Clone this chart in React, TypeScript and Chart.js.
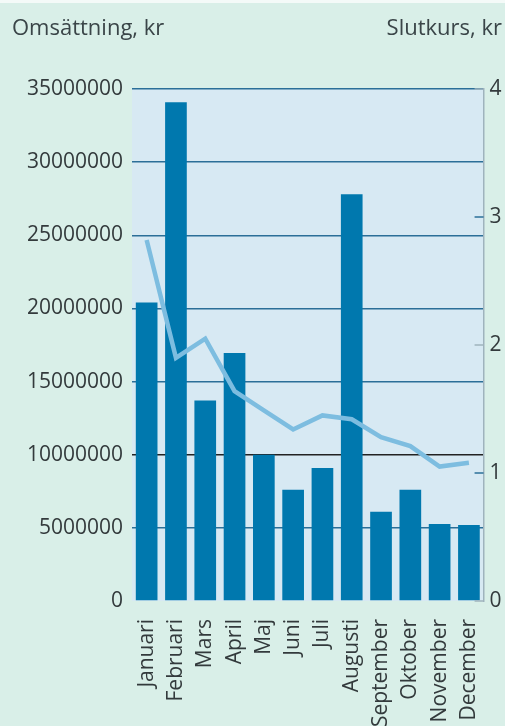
import React, { useEffect, useRef } from "react";
import { Chart, registerables } from "chart.js";

Chart.register(...registerables);

const months = ["Januari", "Februari", "Mars", "April", "Maj", "Juni", "Juli", "Augusti", "September", "Oktober", "November", "December"];
const turnover = [20400000, 34100000, 13700000, 16950000, 10000000, 7600000, 9100000, 27800000, 6100000, 7600000, 5260000, 5200000];
const closing = [2.82, 1.9, 2.05, 1.64, 1.49, 1.34, 1.45, 1.42, 1.28, 1.21, 1.05, 1.08];
const leftTicksMax = 35000000;
const leftStep = 5000000;
const rightMax = 4;

const FONT = "'Open Sans', sans-serif";
const TEXT = "#333a3c";

export default function App() {
  const ref = useRef<HTMLCanvasElement | null>(null);

  useEffect(() => {
    document.body.style.margin = "0";
    const canvas = ref.current!;
    const plotBg = {
      id: "plotBg",
      beforeDraw(chart: any) {
        const { ctx, chartArea } = chart;
        ctx.save();
        ctx.fillStyle = "#d7e9f3";
        ctx.fillRect(chartArea.left, chartArea.top, chartArea.right - chartArea.left, chartArea.bottom - chartArea.top);
        ctx.restore();
      },
      afterDraw(chart: any) {
        const { ctx, chartArea } = chart;
        const s = chart.scales.y1;
        ctx.save();
        ctx.lineWidth = 1.5;
        s.ticks.forEach((t: any, i: number) => {
          const y = s.getPixelForValue(t.value);
          ctx.strokeStyle = i % 2 === 1 ? "#2b6f98" : "#9fb3bd";
          ctx.beginPath();
          ctx.moveTo(chartArea.right - 9, y);
          ctx.lineTo(chartArea.right, y);
          ctx.stroke();
        });
        ctx.restore();
      },
    };
    const chart = new Chart(canvas, {
      type: "bar",
      data: {
        labels: months,
        datasets: [
          {
            type: "line",
            label: "Slutkurs",
            data: closing,
            yAxisID: "y1",
            borderColor: "#7dbde0",
            borderWidth: 4.5,
            pointRadius: 0,
            tension: 0,
            order: 0,
          } as any,
          {
            type: "bar",
            label: "Omsättning",
            data: turnover,
            yAxisID: "y",
            backgroundColor: "#0078ae",
            categoryPercentage: 1,
            barPercentage: 0.74,
            order: 1,
          },
        ],
      },
      plugins: [plotBg],
      options: {
        animation: false,
        responsive: false,
        layout: { padding: { top: 89, left: 0, right: 0, bottom: 0 } },
        plugins: { legend: { display: false }, tooltip: { enabled: false } },
        scales: {
          x: {
            grid: { display: false },
            border: { display: false },
            ticks: {
              minRotation: 90,
              maxRotation: 90,
              autoSkip: false,
              padding: 10,
              color: TEXT,
              font: { family: FONT, size: 21 },
            },
            afterFit(scale: any) {
              scale.height = 125;
            },
          },
          y: {
            position: "left",
            min: 0,
            max: leftTicksMax,
            ticks: {
              stepSize: leftStep,
              padding: 9,
              color: TEXT,
              font: { family: FONT, size: 21 },
              callback: (v: any) => String(v),
            },
            grid: {
              drawTicks: false,
              lineWidth: 1.5,
              color: (ctx: any) =>
                ctx.tick && ctx.tick.value === 10000000
                  ? "#222222"
                  : ctx.tick && ctx.tick.value === 0
                  ? "rgba(0,0,0,0)"
                  : "#2b6f98",
            },
            border: { display: false },
            afterFit(scale: any) {
              scale.width = 132;
            },
          },
          y1: {
            position: "right",
            min: 0,
            max: rightMax,
            ticks: {
              stepSize: 1,
              padding: 6,
              color: TEXT,
              font: { family: FONT, size: 21 },
            },
            grid: { drawOnChartArea: false, drawTicks: false },
            border: { display: true, color: "#9fb3bd", width: 1.5 },
            afterFit(scale: any) {
              scale.width = 21;
            },
          },
        },
      },
    });
    return () => chart.destroy();
  }, []);

  return (
    <div style={{ position: "relative", width: 505, height: 726, background: "#d9efe8", overflow: "hidden" }}>
      <div style={{ position: "absolute", left: 0, top: 0, width: 505, height: 3, background: "#f4faf8" }} />
      <canvas ref={ref} width={505} height={726} style={{ position: "absolute", left: 0, top: 0 }} />
      <div style={{ position: "absolute", left: 12, top: 12, fontFamily: FONT, fontSize: 22, color: "#3a4548", lineHeight: "28px", whiteSpace: "nowrap" }}>
        Omsättning, kr
      </div>
      <div style={{ position: "absolute", right: 3, top: 12, fontFamily: FONT, fontSize: 22, color: "#3a4548", lineHeight: "28px", whiteSpace: "nowrap" }}>
        Slutkurs, kr
      </div>
    </div>
  );
}
